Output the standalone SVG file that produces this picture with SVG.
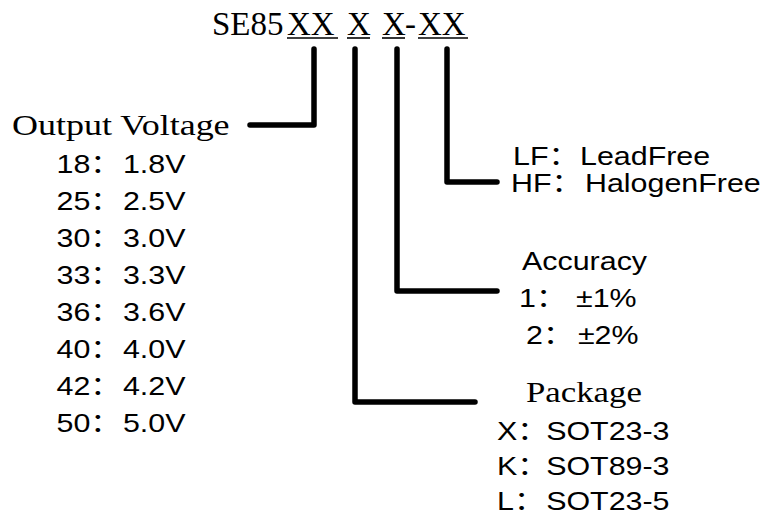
<svg xmlns="http://www.w3.org/2000/svg" width="765" height="516" viewBox="0 0 765 516">
<style>
.serif{font-family:"Liberation Serif","Times New Roman",serif;fill:#000}
.sans{font-family:"Liberation Sans",Arial,"Noto Sans CJK SC",sans-serif;font-size:26px;fill:#000}
.conn{fill:none;stroke:#000;stroke-width:5.5;stroke-linecap:round;stroke-linejoin:round}
.ul{stroke:#000;stroke-width:1.6}
</style>
<rect width="765" height="516" fill="#fff"/>
<g id="title">
<text class="serif" font-size="33" y="35"><tspan x="212">SE85</tspan><tspan x="287">XX</tspan><tspan x="347">X</tspan><tspan x="382">X</tspan><tspan x="405">-</tspan><tspan x="418">XX</tspan></text>
<line class="ul" x1="287" y1="38" x2="338" y2="38"/>
<line class="ul" x1="347" y1="38" x2="370" y2="38"/>
<line class="ul" x1="382" y1="38" x2="405" y2="38"/>
<line class="ul" x1="418" y1="38" x2="468" y2="38"/>
</g>
<g id="connectors">
<path class="conn" d="M314,49 V125 H250"/>
<path class="conn" d="M355,49 V402 H475"/>
<path class="conn" d="M397,49 V291 H497"/>
<path class="conn" d="M447,49 V182 H497"/>
</g>
<g id="output-voltage">
<text class="serif" font-size="30" transform="translate(12,135) scale(1.2 1)">Output Voltage</text>
<text class="sans" transform="translate(56.5,173) scale(1.17 1)">18：<tspan x="56.8">1.8V</tspan></text>
<text class="sans" transform="translate(56.5,210) scale(1.17 1)">25：<tspan x="56.8">2.5V</tspan></text>
<text class="sans" transform="translate(56.5,247) scale(1.17 1)">30：<tspan x="56.8">3.0V</tspan></text>
<text class="sans" transform="translate(56.5,284) scale(1.17 1)">33：<tspan x="56.8">3.3V</tspan></text>
<text class="sans" transform="translate(56.5,321) scale(1.17 1)">36：<tspan x="56.8">3.6V</tspan></text>
<text class="sans" transform="translate(56.5,358) scale(1.17 1)">40：<tspan x="56.8">4.0V</tspan></text>
<text class="sans" transform="translate(56.5,395) scale(1.17 1)">42：<tspan x="56.8">4.2V</tspan></text>
<text class="sans" transform="translate(56.5,432) scale(1.17 1)">50：<tspan x="56.8">5.0V</tspan></text>
</g>
<g id="lead-free">
<text class="sans" transform="translate(513,165) scale(1.17 1)">LF：<tspan x="57.3">LeadFree</tspan></text>
<text class="sans" transform="translate(511,192) scale(1.17 1)">HF：<tspan x="63.2">HalogenFree</tspan></text>
</g>
<g id="accuracy">
<text class="sans" transform="translate(522,270) scale(1.17 1)">Accuracy</text>
<text class="sans" transform="translate(519,307) scale(1.17 1)">1：<tspan x="48.7">±1%</tspan></text>
<text class="sans" transform="translate(526,344) scale(1.17 1)">2：<tspan x="44.4">±2%</tspan></text>
</g>
<g id="package">
<text class="serif" font-size="29" transform="translate(526,402) scale(1.2 1)">Package</text>
<text class="sans" transform="translate(497,440) scale(1.17 1)">X：<tspan x="42">SOT23-3</tspan></text>
<text class="sans" transform="translate(497,475) scale(1.17 1)">K：<tspan x="42">SOT89-3</tspan></text>
<text class="sans" transform="translate(497,510) scale(1.17 1)">L：<tspan x="42">SOT23-5</tspan></text>
</g>
</svg>
